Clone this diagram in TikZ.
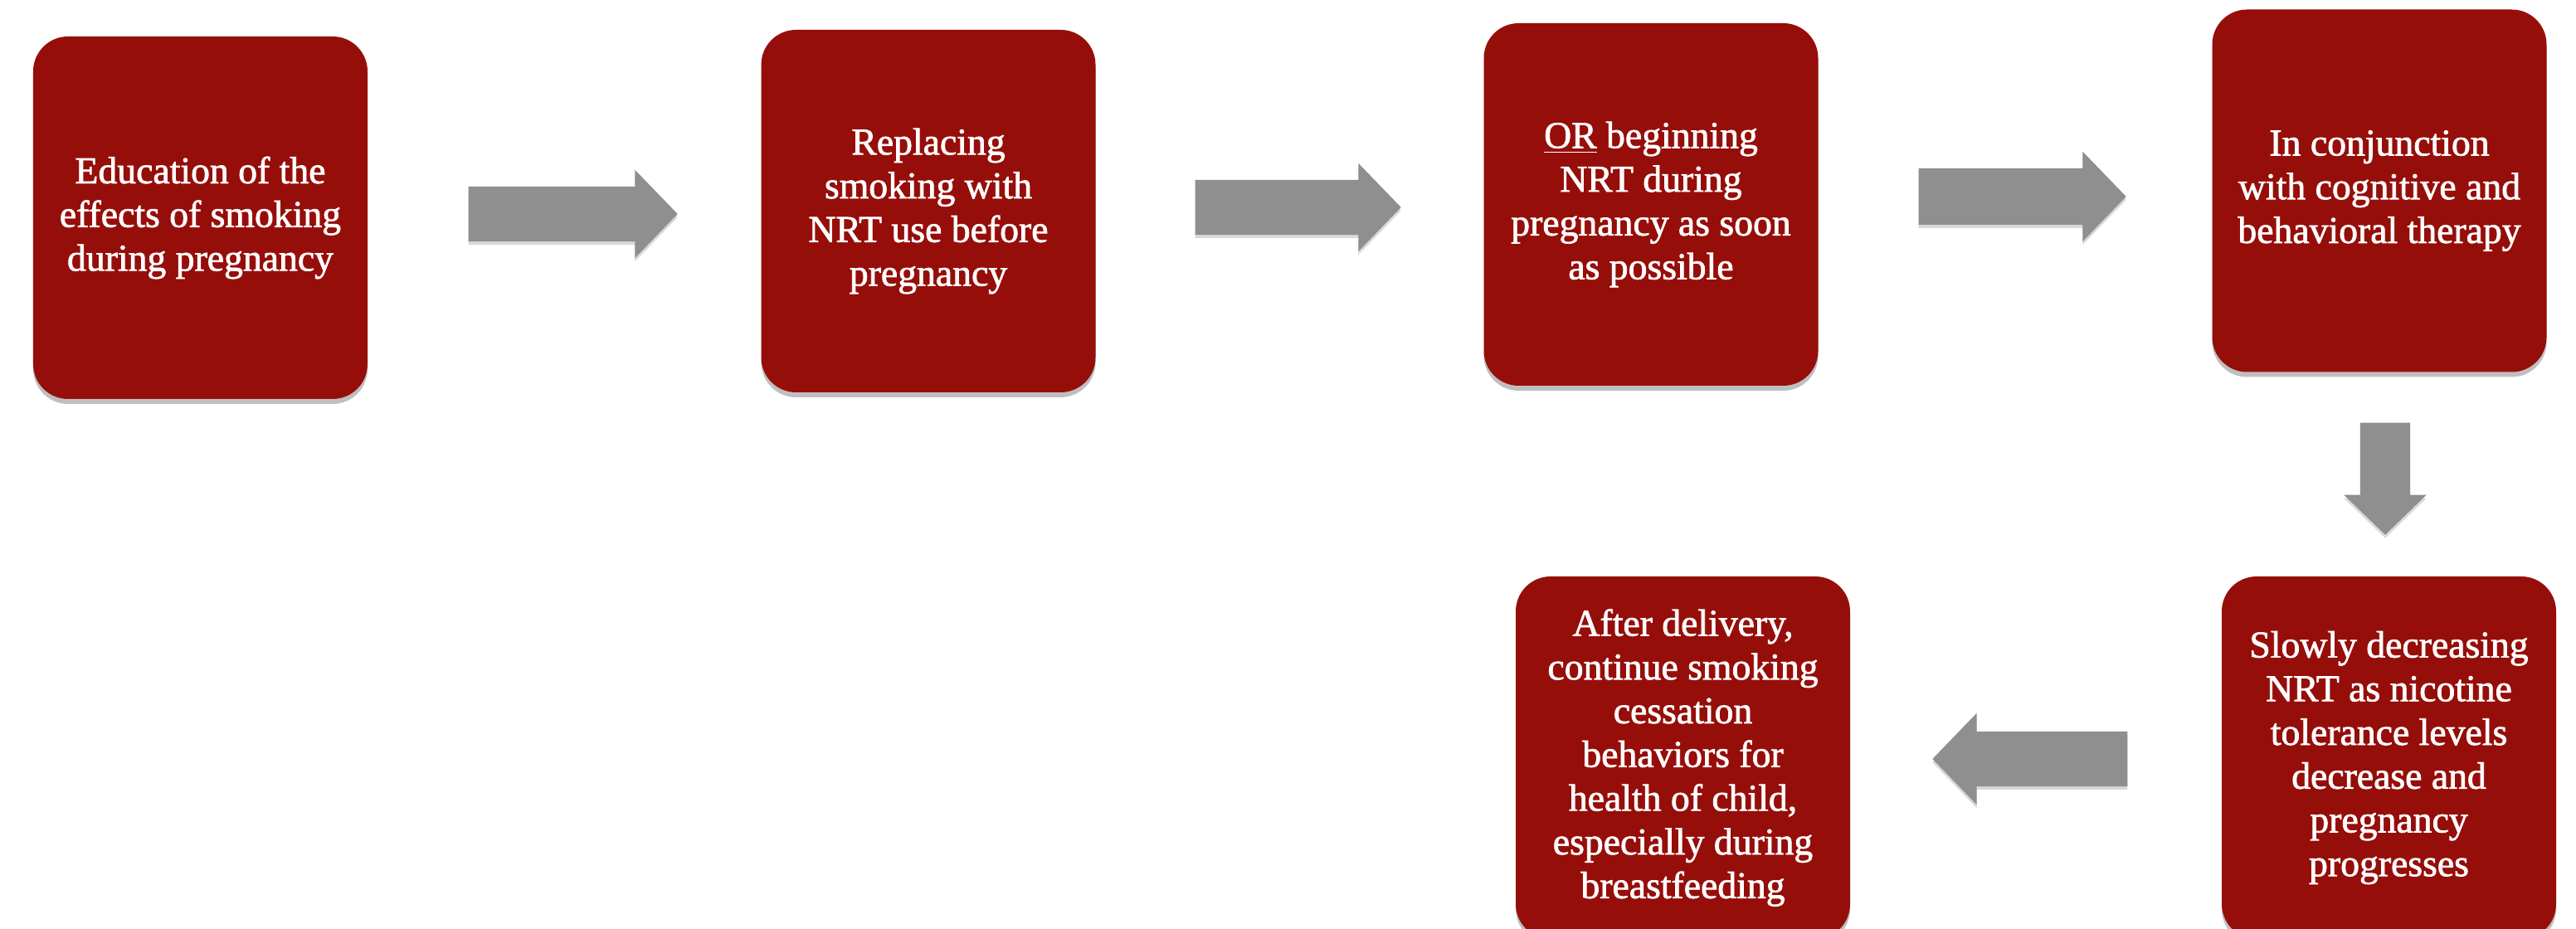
\documentclass[tikz,border=0pt]{standalone}
\usepackage{fontspec}
\setmainfont{Liberation Serif}
\newfontfamily\boxfont{Liberation Serif}[FakeBold=1.6]
\usetikzlibrary{shapes.arrows,shadows}
\definecolor{boxred}{RGB}{150,14,10}
\definecolor{arrowgray}{RGB}{143,143,143}
\begin{document}
\begin{tikzpicture}[
  stepbox/.style={rectangle, rounded corners=0.42cm, fill=boxred, text=white,
    minimum width=4.03cm, minimum height=4.37cm, inner sep=0pt, align=center,
    font=\boxfont\fontsize{13}{15}\selectfont,
    drop shadow={shadow xshift=0pt, shadow yshift=-0.06cm, opacity=0.25, fill=black}},
  blockarrow/.style={single arrow, fill=arrowgray, draw=none, inner xsep=0pt,
    inner ysep=0.325cm, single arrow head extend=0.2cm, single arrow tip angle=92,
    anchor=tail,
    drop shadow={shadow xshift=0pt, shadow yshift=-0.04cm, opacity=0.15, fill=black}}
]
\useasboundingbox (0,0) rectangle (31.05,11.2);

\node[stepbox] (b1) at (2.415,8.575) {Education of the\\effects of smoking\\during pregnancy};
\node[stepbox] (b2) at (11.19,8.655) {Replacing\\smoking with\\NRT use before\\pregnancy};
\node[stepbox] (b3) at (19.90,8.735) {\underline{OR} beginning\\NRT during\\pregnancy as soon\\as possible};
\node[stepbox] (b4) at (28.68,8.90) {In conjunction\\with cognitive and\\behavioral therapy};
\node[stepbox] (b5) at (28.795,2.065) {Slowly decreasing\\NRT as nicotine\\tolerance levels\\decrease and\\pregnancy\\progresses};
\node[stepbox] (b6) at (20.285,2.065) {After delivery,\\continue smoking\\cessation\\behaviors for\\health of child,\\especially during\\breastfeeding};

\node[blockarrow, minimum height=2.52cm] (a1) at (5.64,8.62) {};
\node[blockarrow, minimum height=2.48cm] (a2) at (14.40,8.70) {};
\node[blockarrow, minimum height=2.50cm, inner ysep=0.335cm] (a3) at (23.12,8.83) {};
\node[blockarrow, minimum height=1.35cm, inner ysep=0.295cm, single arrow head extend=0.195cm, rotate=-90] (a4) at (28.75,6.11) {};
\node[blockarrow, minimum height=2.35cm, single arrow head extend=0.22cm, rotate=180] (a5) at (25.65,2.05) {};
\end{tikzpicture}
\end{document}
